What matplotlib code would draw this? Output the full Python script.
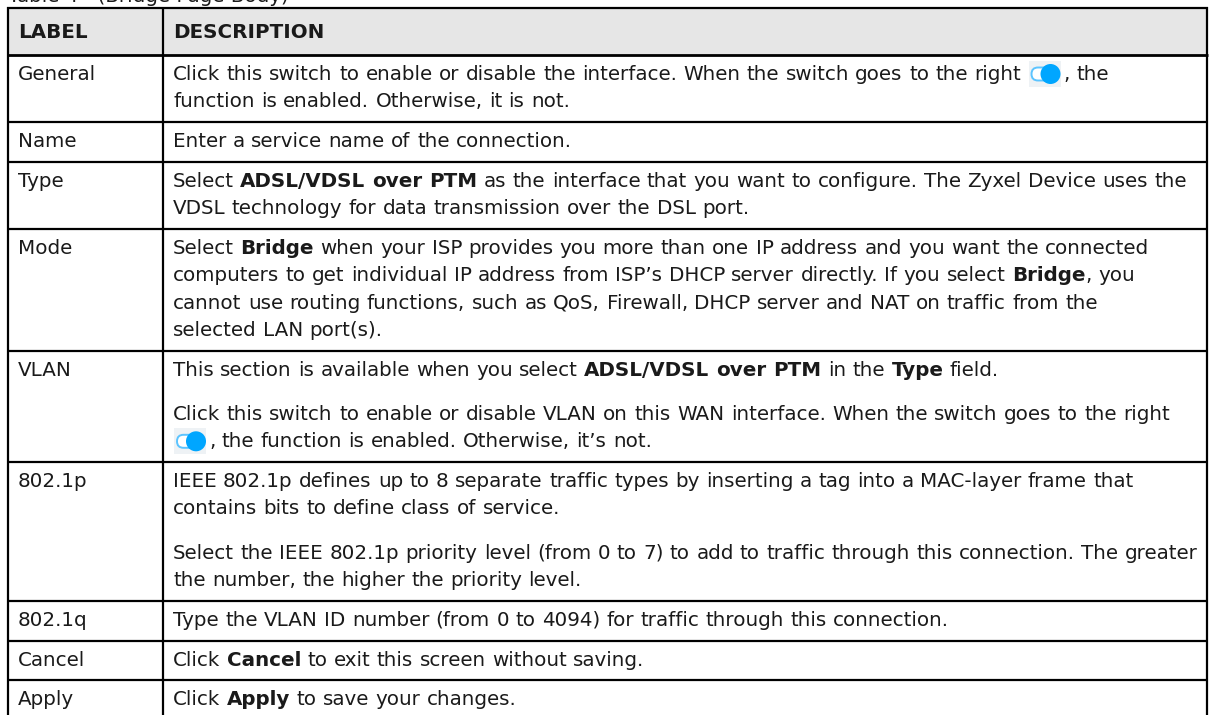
import re
import matplotlib
matplotlib.use('Agg')
import matplotlib.pyplot as plt
from matplotlib.patches import Rectangle, FancyBboxPatch, Circle

W, H = 1209, 715
FONT = 'DejaVu Sans'
TEXT = '#1a1a1a'
HEADER_BG = '#e6e6e6'

CAPTION = 'Table 4   (Bridge Page Body)'
HEADERS = ['LABEL', 'DESCRIPTION']
LABELS = ['General', 'Name', 'Type', 'Mode', 'VLAN', '802.1p', '802.1q', 'Cancel', 'Apply']
# each entry: paragraphs -> lines; **bold** runs, [SW] is the switch icon
DESCRIPTIONS = [
    [['Click this switch to enable or disable the interface. When the switch goes to the right [SW], the',
      'function is enabled. Otherwise, it is not.']],
    [['Enter a service name of the connection.']],
    [['Select **ADSL/VDSL over PTM** as the interface that you want to configure. The Zyxel Device uses the',
      'VDSL technology for data transmission over the DSL port.']],
    [['Select **Bridge** when your ISP provides you more than one IP address and you want the connected',
      'computers to get individual IP address from ISP\u2019s DHCP server directly. If you select **Bridge**, you',
      'cannot use routing functions, such as QoS, Firewall, DHCP server and NAT on traffic from the',
      'selected LAN port(s).']],
    [['This section is available when you select **ADSL/VDSL over PTM** in the **Type** field.'],
     ['Click this switch to enable or disable VLAN on this WAN interface. When the switch goes to the right',
      '[SW], the function is enabled. Otherwise, it\u2019s not.']],
    [['IEEE 802.1p defines up to 8 separate traffic types by inserting a tag into a MAC-layer frame that',
      'contains bits to define class of service.'],
     ['Select the IEEE 802.1p priority level (from 0 to 7) to add to traffic through this connection. The greater',
      'the number, the higher the priority level.']],
    [['Type the VLAN ID number (from 0 to 4094) for traffic through this connection.']],
    [['Click **Cancel** to exit this screen without saving.']],
    [['Click **Apply** to save your changes.']],
]

# layout (pixels)
X0, XDIV, X1 = 8, 163, 1207
Y0, HEAD_H = 8, 47
PAD_TOP, STEP, GAP, PAD_BOT = 19, 27.3, 17, 20.8
LPAD = 10
SW_W = 36

fig = plt.figure(figsize=(W / 100, H / 100), dpi=100)
ax = fig.add_axes([0, 0, 1, 1])
ax.set_xlim(0, W)
ax.set_ylim(H, 0)
ax.axis('off')
fig.canvas.draw()
renderer = fig.canvas.get_renderer()

_cache = {}


def ink_w(s, size, weight):
    key = (s, size, weight)
    if key not in _cache:
        t = ax.text(0, 0, s, fontsize=size, fontweight=weight, family=FONT)
        _cache[key] = t.get_window_extent(renderer).width
        t.remove()
    return _cache[key]


def adv(s, size, weight):
    # advance width of s, measured between two bars so bearings cancel
    if not s:
        return 0.0
    return ink_w('|' + s + '|', size, weight) - ink_w('||', size, weight)


def runs_of(line):
    out = []
    for piece in re.split(r'(\*\*.*?\*\*|\[SW\])', line):
        if not piece:
            continue
        if piece == '[SW]':
            out.append((None, 'icon'))
        elif piece.startswith('**'):
            out.append((piece[2:-2], 'bold'))
        else:
            out.append((piece, 'normal'))
    return out


def layout_line(x, line, size, draw=False, yb=0):
    for s, weight in runs_of(line):
        if weight == 'icon':
            if draw:
                draw_switch(x, yb)
            x += SW_W
            continue
        if draw:
            # one text per word, placed by the advance of the run prefix
            for m in re.finditer(r'\S+', s):
                xw = x + adv(s[:m.start()].replace(' ', '\u00a0'), size, weight) \
                    if m.start() else x
                ax.text(xw, yb, m.group(), fontsize=size, fontweight=weight, family=FONT,
                        color=TEXT, va='baseline', ha='left')
        x += adv(s.replace(' ', '\u00a0'), size, weight)
    return x


def draw_switch(x, yb):
    yc = yb - 6
    ax.add_patch(Rectangle((x + 1, yc - 13), SW_W - 4, 26, facecolor='#eef2f5', edgecolor='none'))
    ax.add_patch(FancyBboxPatch((x + 4, yc - 6.5), 23, 13, boxstyle='round,pad=0,rounding_size=6.5',
                                facecolor='white', edgecolor='#5cc4ff', lw=1.4))
    ax.add_patch(Circle((x + 23, yc), 10, facecolor='#00a6ff', edgecolor='none'))


# fit font size so the widest description line ends just inside the cell
x_start = XDIV + LPAD
widest = max(layout_line(0, ln, 10) for paras in DESCRIPTIONS for para in paras for ln in para)
FS = 10 * (1196 - x_start) / widest

# caption cut off at the top edge
ax.text(X0, 2, CAPTION, fontsize=FS, family=FONT, color=TEXT, va='baseline')

# header
ax.add_patch(Rectangle((X0, Y0), X1 - X0, HEAD_H, facecolor=HEADER_BG, edgecolor='none'))
hb = Y0 + HEAD_H / 2 + 7
layout_line(X0 + LPAD, '**%s**' % HEADERS[0], FS, True, hb)
layout_line(x_start, '**%s**' % HEADERS[1], FS, True, hb)

# rows
y = Y0 + HEAD_H
bounds = [Y0, y]
for label, paras in zip(LABELS, DESCRIPTIONS):
    yb = y + PAD_TOP + 6
    layout_line(X0 + LPAD, label, FS, True, yb)
    for pi, para in enumerate(paras):
        if pi > 0:
            yb += STEP + GAP
        for li, line in enumerate(para):
            if li > 0:
                yb += STEP
            layout_line(x_start, line, FS, True, yb)
    y = yb - 6 + PAD_BOT
    bounds.append(y)

# grid lines
for i, b in enumerate(bounds):
    ax.plot([X0 - 1, X1 + 1], [b, b], color='black', lw=2.0 if i == 1 else 1.6,
            solid_capstyle='butt')
for xv in (X0, XDIV, X1):
    ax.plot([xv, xv], [Y0 - 1, H + 10], color='black', lw=1.6, solid_capstyle='butt')

fig.savefig('out.png', dpi=100)
